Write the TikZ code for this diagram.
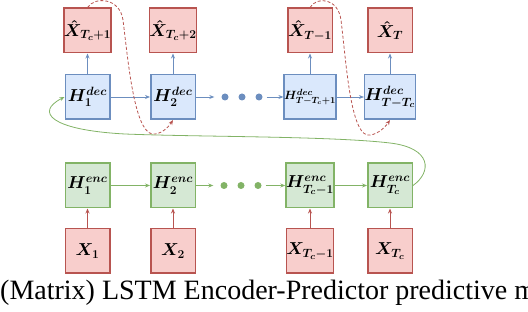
\documentclass[tikz,border=0pt]{standalone}
\usepackage{amsmath}
\usepackage{fontspec}
\usetikzlibrary{arrows.meta}
\newfontfamily\captionserif{Liberation Serif}
\definecolor{predred}{HTML}{B85450}
\definecolor{predredfill}{HTML}{F8CECC}
\definecolor{predblue}{HTML}{6C8EBF}
\definecolor{predbluefill}{HTML}{DAE8FC}
\definecolor{predgreen}{HTML}{82B366}
\definecolor{predgreenfill}{HTML}{D5E8D4}

\begin{document}
\begin{tikzpicture}[x=1pt,y=-1pt,
    cell/.style={draw,line width=1.5pt,minimum size=44.5pt,inner sep=0pt,
      font=\fontsize{18}{20}\selectfont\boldmath},
    outcell/.style={cell,draw=predred,fill=predredfill},
    deccell/.style={cell,draw=predblue,fill=predbluefill},
    enccell/.style={cell,draw=predgreen,fill=predgreenfill},
    incell/.style={cell,draw=predred,fill=predredfill},
    gap/.style={circle,inner sep=0pt,minimum size=7pt},
    flow/.style={-{Stealth[length=5pt,width=4pt]},line width=0.8pt},
    feedback/.style={flow,predred,dash pattern=on 3pt off 2pt}]
    \useasboundingbox (0,0) rectangle (528,312);
    \clip (0,0) rectangle (528,312);
    % predictions
    \node[outcell] (xh1) at (87.5,30.5) {$\hat{X}_{T_c+1}$};
    \node[outcell] (xh2) at (173,30.5) {$\hat{X}_{T_c+2}$};
    \node[outcell] (xh3) at (310,30.5) {$\hat{X}_{T-1}$};
    \node[outcell] (xh4) at (390,30.5) {$\hat{X}_{T}$};
    % decoder states
    \node[deccell] (dc1) at (87.5,97) {$H^{dec}_{1}$};
    \node[deccell] (dc2) at (173,97) {$H^{dec}_{2}$};
    \node[deccell,font=\fontsize{13}{15}\selectfont\boldmath] (dc3) at (310,97)
      {$H^{dec}_{T-T_c+1}$};
    \node[deccell] (dc4) at (390,97) {$H^{dec}_{T-T_c}$};
    % encoder states
    \node[enccell] (en1) at (87.5,185.5) {$H^{enc}_{1}$};
    \node[enccell] (en2) at (173,185.5) {$H^{enc}_{2}$};
    \node[enccell] (en3) at (310,185.5) {$H^{enc}_{T_c-1}$};
    \node[enccell] (en4) at (390,185.5) {$H^{enc}_{T_c}$};
    % inputs
    \node[incell] (in1) at (87.5,251) {$X_{1}$};
    \node[incell] (in2) at (173,251) {$X_{2}$};
    \node[incell] (in3) at (310,251) {$X_{T_c-1}$};
    \node[incell] (in4) at (390,251) {$X_{T_c}$};
    % ellipsis dots
    \foreach \i/\x in {1/225,2/242,3/259} {
      \node[gap,fill=predblue] (dd\i) at (\x,97) {};
      \node[gap,fill=predgreen] (ed\i) at (\x-1,185.5) {};
    }
    % recurrences
    \draw[flow,predblue] (dc1) -- (dc2);
    \draw[flow,predblue,shorten >=7pt] (dc2) -- (dd1);
    \draw[flow,predblue,shorten <=4pt] (dd3) -- (dc3);
    \draw[flow,predblue] (dc3) -- (dc4);
    \draw[flow,predgreen] (en1) -- (en2);
    \draw[flow,predgreen,shorten >=7pt] (en2) -- (ed1);
    \draw[flow,predgreen,shorten <=4pt] (ed3) -- (en3);
    \draw[flow,predgreen] (en3) -- (en4);
    \foreach \i in {1,2,3,4} {
      \draw[flow,predblue] (dc\i) -- (xh\i);
      \draw[flow,predred] (in\i) -- (en\i);
    }
    % feeding predictions back
    \draw[feedback] (xh1.north) .. controls (95,-4) and (120,-2) .. (123,20)
      .. controls (128,60) and (134,130) .. (152,134)
      .. controls (160,135) and (168,128) .. (dc2.south);
    \draw[feedback] (xh3.north) .. controls (317,-4) and (338,-2) .. (341,20)
      .. controls (346,60) and (350,130) .. (367,135)
      .. controls (375,136) and (384,129) .. (dc4.south);
    % encoder to decoder
    \draw[flow,predgreen] (en4.east) .. controls (432,172) and (432,148) .. (390,143)
      .. controls (330,136) and (200,137) .. (125,134)
      .. controls (50,130) and (35,112) .. (dc1.west);
    \node[anchor=base west,inner sep=0pt,font=\captionserif\fontsize{28}{30}\selectfont]
      (cap) at (0,300) {(Matrix) LSTM Encoder-Predictor predictive m};
\end{tikzpicture}
\end{document}
